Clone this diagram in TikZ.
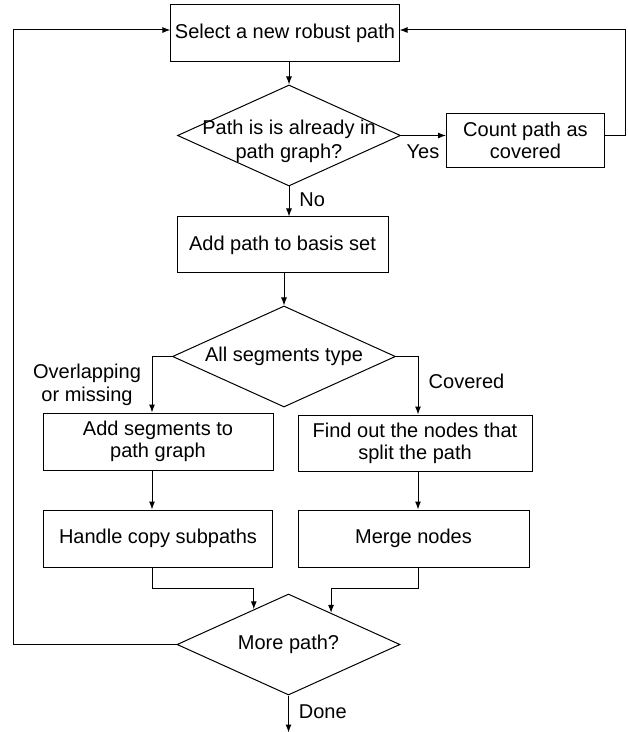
\documentclass[tikz,border=0pt]{standalone}
\usepackage{fontspec}
\setmainfont{Liberation Sans}
\usetikzlibrary{arrows.meta,positioning,calc,shapes.geometric}
\tikzset{
  block/.style={
    draw,
    line width=0.5pt,
    align=center,
    minimum height=28.5pt,
    inner sep=2pt,
    font=\fontsize{10}{11}\selectfont
  },
  decision/.style={
    draw,
    diamond,
    shape aspect=2.2,
    line width=0.5pt,
    align=center,
    minimum width=111.5pt,
    minimum height=50.5pt,
    inner xsep=-2pt,
    inner ysep=-9pt,
    font=\fontsize{10}{12}\selectfont
  },
  line/.style={-{Latex[length=4pt,width=3pt]}, line width=0.5pt},
  note/.style={font=\fontsize{10}{11.5}\selectfont, align=center, inner sep=1pt}
}
\begin{document}
\begin{tikzpicture}
\useasboundingbox (0,0) rectangle (313.5pt,-366pt);
\coordinate (loopL) at (6.5pt,0);
\coordinate (loopR) at (312.5pt,0);

\node[block, minimum width=114pt] (select) at (142.5pt,-16.75pt) {Select a new robust path};
\node[decision, text height=25.2pt, below=11pt of select, xshift=2pt] (check) {Path is is already in\\path graph?};
\node[block, minimum width=79pt, minimum height=27pt, right=22.5pt of check, yshift=-2.5pt] (count) {Count path as\\covered};
\node[block, minimum width=105.5pt, minimum height=28pt, below=15pt of check, xshift=-3.25pt] (addpath) {Add path to basis set};
\node[decision, below=16pt of addpath, xshift=0.75pt] (segtype) {All segments type};
\node[block, minimum width=115pt, below=2.5pt of segtype, xshift=-63pt] (addseg) {Add segments to\\path graph};
\node[block, minimum width=117pt, minimum height=28pt, below=3.5pt of segtype, xshift=65.5pt] (findout) {Find out the nodes that\\split the path};
\node[block, minimum width=114.5pt, below=19.5pt of addseg] (handle) {Handle copy subpaths};
\node[block, minimum width=115.5pt, below=19pt of findout, xshift=-0.75pt] (merge) {Merge nodes};
\node[decision, below=93pt of segtype, xshift=2.25pt] (more) {More path?};
\coordinate[below=18.5pt of more] (exit);

% branch labels
\node[note] (yes) at ([xshift=-11.5pt,yshift=-5.5pt]count.west) {Yes};
\node[note, anchor=west] (no) at ([xshift=4pt,yshift=-6.5pt]check.south) {No};
\node[note] (overlap) at ([xshift=-42.5pt,yshift=-14.25pt]segtype.west) {Overlapping\\or missing};
\node[note] (covered) at ([xshift=35.25pt,yshift=-12.5pt]segtype.east) {Covered};
\node[note, anchor=west] (done) at ([xshift=4pt,yshift=-8pt]more.south) {Done};

\coordinate (inL) at ($(more.north)!0.31!(more.west)$);
\coordinate (inR) at ($(more.north)!0.38!(more.east)$);

\draw[line] (select.south -| check.north) -- (check.north);
\draw[line] (check.east) -- (check.east -| count.west);
\draw[line] (check.east -| count.east) -- (check.east -| loopR) |- ([yshift=1.75pt]select.east);
\draw[line] (check.south) -- (check.south |- addpath.north);
\draw[line] (addpath.south -| segtype.north) -- (segtype.north);
\draw[line] (segtype.west) -| ([xshift=-3pt]addseg.north);
\draw[line] (segtype.east) -| ([xshift=1.5pt]findout.north);
\draw[line] ([xshift=-3pt]addseg.south) -- ([xshift=-3pt]addseg.south |- handle.north);
\draw[line] ([xshift=1.5pt]findout.south) -- ([xshift=1.5pt]findout.south |- merge.north);
\draw[line] ([xshift=-3pt]handle.south) -- ++(0,-10.5pt) -| (inL);
\draw[line] ([xshift=2.25pt]merge.south) -- ++(0,-10.5pt) -| (inR);
\draw[line] (more.west) -- (more.west -| loopL) |- ([yshift=1.75pt]select.west);
\draw[line] (more.south) -- (exit);
\end{tikzpicture}
\end{document}
